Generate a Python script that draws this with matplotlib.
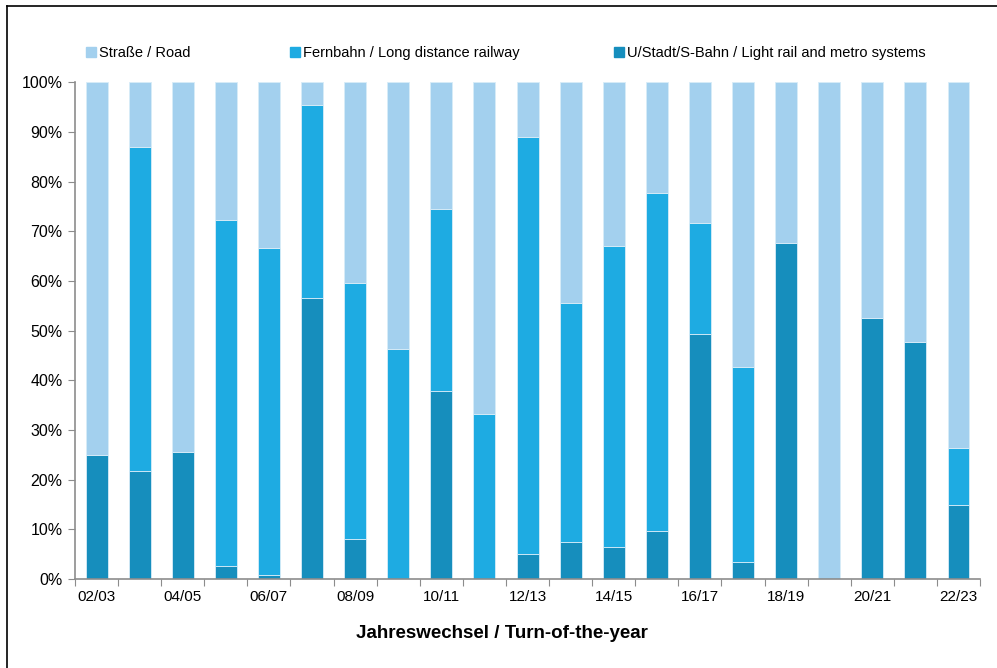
import numpy as np
import matplotlib
matplotlib.use('Agg')
import matplotlib.pyplot as plt
from matplotlib.lines import Line2D
from matplotlib.patches import Patch
from matplotlib.ticker import PercentFormatter

plt.rcParams['font.family'] = ['Liberation Sans', 'DejaVu Sans']

# Turn-of-the-year periods
years = ['02/03', '03/04', '04/05', '05/06', '06/07', '07/08', '08/09', '09/10',
         '10/11', '11/12', '12/13', '13/14', '14/15', '15/16', '16/17', '17/18',
         '18/19', '19/20', '20/21', '21/22', '22/23']

# shares in percent
metro = [25.0, 21.7, 25.6, 2.7, 0.8, 56.6, 8.0, 0.0, 37.9, 0.0, 5.0,
         7.4, 6.4, 9.6, 49.4, 3.5, 67.6, 0.0, 52.6, 47.8, 14.8]
longdist = [0.0, 65.3, 0.0, 69.5, 65.8, 38.9, 51.5, 46.2, 36.5, 33.3, 84.0,
            48.2, 60.7, 68.0, 22.2, 39.2, 0.0, 0.0, 0.0, 0.0, 11.6]
road = [100 - m - f for m, f in zip(metro, longdist)]

labels = ['Straße / Road', 'Fernbahn / Long distance railway',
          'U/Stadt/S-Bahn / Light rail and metro systems']
colors = {'road': '#A3D0EE', 'long': '#1EABE2', 'metro': '#168EBD'}

fig = plt.figure(figsize=(9.97, 6.68), dpi=100)
ax = fig.add_axes([0.0752, 0.1332, 0.9078, 0.7438])

x = np.arange(len(years))
w = 0.51
edge = dict(edgecolor='#D8ECF8', linewidth=0.6)
ax.bar(x, metro, w, color=colors['metro'], **edge)
ax.bar(x, longdist, w, bottom=metro, color=colors['long'], **edge)
ax.bar(x, road, w, bottom=np.add(metro, longdist), color=colors['road'], **edge)

ax.set_xlim(-0.5, len(years) - 0.5)
ax.set_ylim(0, 100)
ax.set_yticks(np.arange(0, 101, 10))
ax.yaxis.set_major_formatter(PercentFormatter(decimals=0))

# tick marks at category boundaries, labels under every other bar
ax.set_xticks(np.arange(-0.5, len(years), 1.0))
ax.set_xticklabels([])
ax.set_xticks(x[::2], minor=True)
ax.set_xticklabels(years[::2], minor=True)
ax.tick_params(axis='x', which='minor', length=0, labelsize=11, pad=8)
ax.tick_params(axis='x', which='major', length=5, color='#8C8C8C', direction='out')
ax.tick_params(axis='y', length=5, color='#8C8C8C', labelsize=11.5, pad=4)

for s in ['top', 'right']:
    ax.spines[s].set_visible(False)
for s in ['left', 'bottom']:
    ax.spines[s].set_color('#8C8C8C')
    ax.spines[s].set_linewidth(1.2)

# axis title sits centred on the figure, not the axes
fig.text(0.503, 0.052, 'Jahreswechsel / Turn-of-the-year', fontsize=13.5,
         fontweight='bold', ha='center', va='center')

# legend entries placed along the top
handles = [Patch(color=colors['road']), Patch(color=colors['long']),
           Patch(color=colors['metro'])]
xs = [0.080, 0.285, 0.610]
for h, lab, px in zip(handles, labels, xs):
    fig.legend([h], [lab], loc='center left', bbox_to_anchor=(px, 0.920),
               frameon=False, fontsize=10.5, handlelength=0.7,
               handleheight=0.7, handletextpad=0.2, borderaxespad=0)

# frame lines of the original export
fig.add_artist(Line2D([0.007, 0.007], [0.0, 0.991], color='black', lw=1.2,
                      transform=fig.transFigure))
fig.add_artist(Line2D([0.007, 1.0], [0.991, 0.991], color='black', lw=1.2,
                      transform=fig.transFigure))

fig.savefig('out.png', dpi=100)
